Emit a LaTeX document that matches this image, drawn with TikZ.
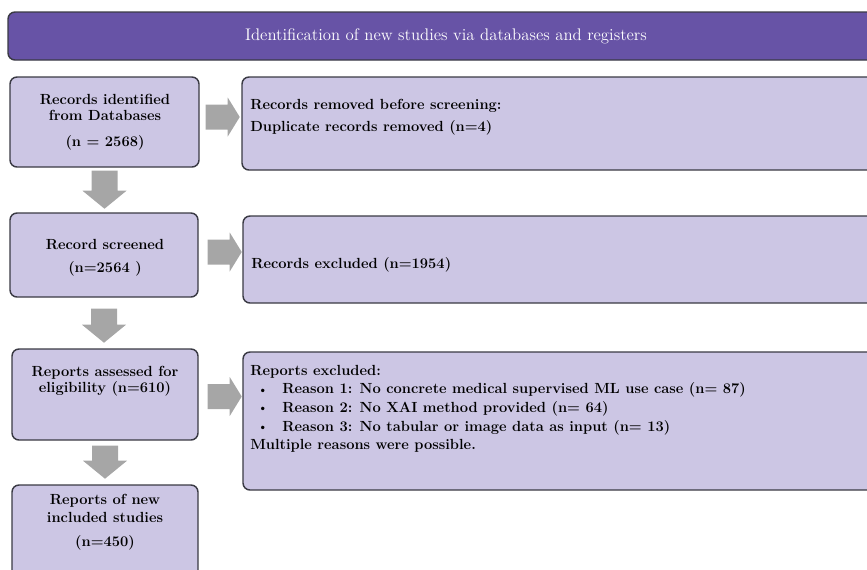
\documentclass[tikz,border=0pt]{standalone}
\usetikzlibrary{fit,calc}
\definecolor{titlepurple}{HTML}{6753A6}
\definecolor{boxlilac}{HTML}{CCC6E4}
\definecolor{boxedge}{HTML}{3A3A44}
\definecolor{blockgray}{HTML}{A6A6A6}
\newcommand{\bulletitem}{\makebox[24pt][l]{\hspace{5.5pt}\raisebox{0.6pt}{\fontsize{8.5}{8.5}\selectfont\textbullet}}}
\begin{document}
\begin{tikzpicture}[x=0.75pt,y=-0.75pt,
  panel/.style={draw=boxedge, line width=1.1pt, fill=boxlilac, rounded corners=5.25pt, inner sep=0pt},
  banner/.style={draw=boxedge, line width=1.1pt, fill=titlepurple, rounded corners=5.25pt, inner sep=0pt},
  txt/.style={inner sep=0pt, font=\fontsize{11}{12}\selectfont\bfseries, align=center, anchor=north},
  ltxt/.style={txt, align=left, anchor=north west},
  pics/rightblock/.style={code={
    \fill[blockgray] (0,-12.5) -- (22,-12.5) -- (22,-19.5) -- (34,0) -- (22,19.5) -- (22,12.5) -- (0,12.5) -- cycle;}},
  pics/downblock/.style={code={
    \fill[blockgray] (-13,0) -- (13,0) -- (13,#1-18) -- (22,#1-18) -- (0,#1) -- (-22,#1-18) -- (-13,#1-18) -- cycle;}}]
\useasboundingbox (0,0) rectangle (867,569);
\clip (0,0) rectangle (867,569);

% heading bar
\node[banner, fit={(8,12) (900,60)}] (T) {};
\node[inner sep=0pt, text=white, font=\fontsize{12.6}{14}\selectfont] (Tt) at (446,36) {Identification of new studies via databases and registers};

% main column
\node[panel, fit={(10,77) (199,167)}] (L1) {};
\node[panel, fit={(10,213) (198,297)}] (L2) {};
\node[panel, fit={(12,349) (198,440)}] (L3) {};
\node[panel, fit={(12,485) (198,600)}] (L4) {};

% side column
\node[panel, fit={(242,77) (900,170)}] (R1) {};
\node[panel, fit={(243,216) (900,303)}] (R2) {};
\node[panel, fit={(243,352) (900,490)}] (R3) {};

% texts of the main column
\node[txt] (L1t) at (105,94) {Records identified\\from Databases\\[7.5pt](n = 2568)};
\node[txt] (L2t) at (105,239) {Record screened\\[5pt](n=2564 )};
\node[txt] (L3t) at (105,366) {Reports assessed for\\eligibility (n=610)};
\node[txt] (L4t) at (105,494) {Reports of new\\[1.5pt]included studies\\[6pt](n=450)};

% texts of the side column
\node[ltxt] (R1t) at (250,99) {Records removed before screening:\\[4.5pt]Duplicate records removed (n=4)};
\node[ltxt] (R2t) at (251,257) {Records excluded (n=1954)};
\node[ltxt, font=\fontsize{11}{13.9}\selectfont\bfseries] (R3t) at (250,365) {Reports excluded:\\
\bulletitem Reason 1: No concrete medical supervised ML use case (n= 87)\\
\bulletitem Reason 2: No XAI method provided (n= 64)\\
\bulletitem Reason 3: No tabular or image data as input (n= 13)\\
Multiple reasons were possible.};

% block arrows
\pic at ($(L1.east)+(6,-5)$) {rightblock};
\pic at ($(L2.east)+(9,-3)$) {rightblock};
\pic at ($(L3.east)+(9,2)$) {rightblock};
\pic at ($(L1.south)+(0,3)$) {downblock=38};
\pic at ($(L2.south)+(0,11)$) {downblock=34};
\pic at ($(L3.south)+(0,5)$) {downblock=33};
\end{tikzpicture}
\end{document}
